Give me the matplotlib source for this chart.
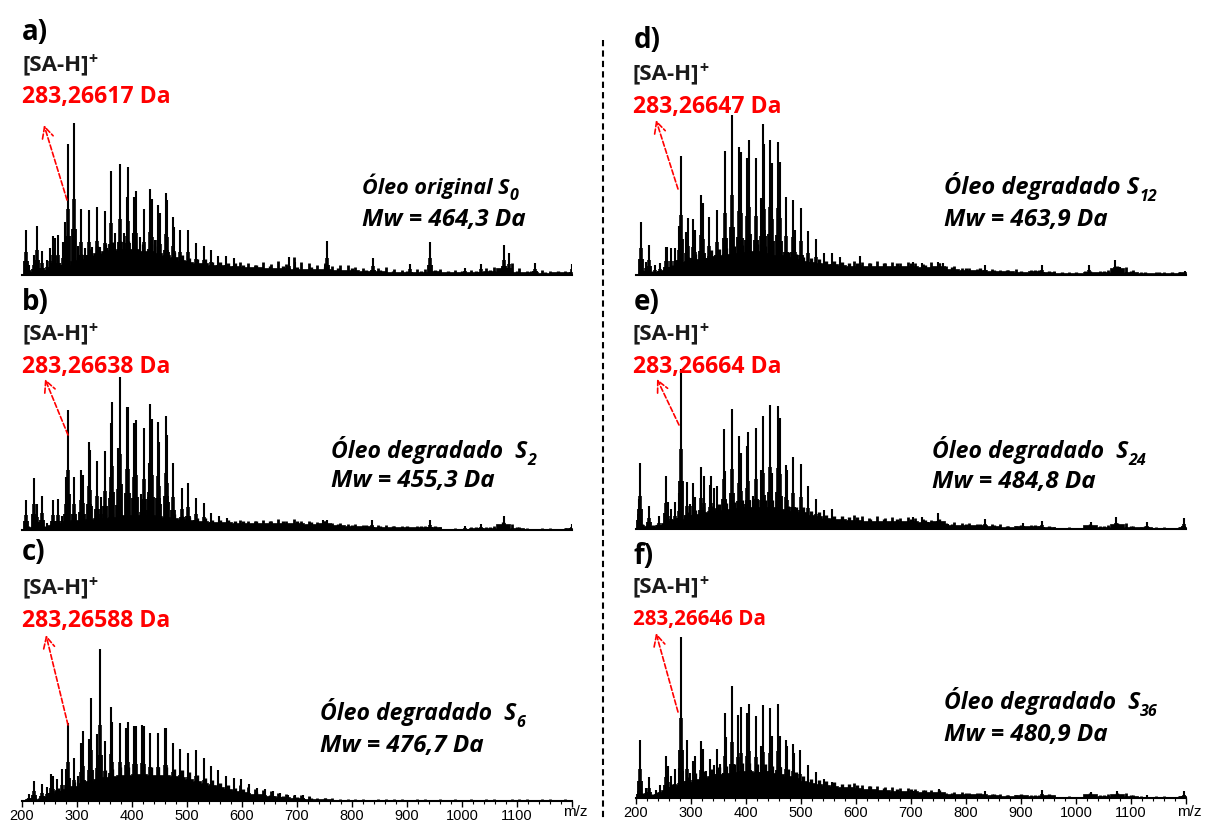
import matplotlib
matplotlib.use("Agg")
import matplotlib.pyplot as plt
from matplotlib.patches import FancyArrowPatch

W, H = 1205, 821

# m/z grid of the dense low "blob" under the peaks
base_mz = [200, 210, 220, 230, 240, 252, 266, 280, 294, 308, 322, 336, 350, 364, 378, 392, 406, 420,
           434, 448, 462, 476, 490, 504, 518, 532, 546, 560, 574, 588, 602, 625, 650, 675, 700, 725,
           750, 775, 800, 825, 850, 875, 900, 925, 950, 975, 1000, 1025, 1050, 1075, 1100, 1125,
           1150, 1175, 1200]

base_a = [1, 4, 3, 3, 3, 5, 8, 10, 14, 16, 20, 22, 24, 25, 26, 26, 26, 24, 24, 22, 20, 18, 15, 13, 12, 12,
          10, 10, 9, 9, 8, 8, 7, 7, 6, 6, 6, 5, 5, 4, 4, 3, 3, 3, 4, 3, 3, 3, 4, 7, 3, 3, 2, 3, 3]
base_b = [1, 3, 3, 2, 3, 5, 6, 9, 10, 10, 11, 12, 12, 13, 15, 15, 15, 15, 15, 14, 13, 12, 11, 10, 9, 9,
          8, 8, 8, 7, 7, 7, 7, 7, 7, 6, 7, 5, 4, 4, 3, 3, 3, 3, 3, 1, 1, 2, 2, 6, 2, 1, 1, 1, 2]
base_c = [1, 2, 3, 2, 4, 8, 10, 12, 15, 18, 20, 22, 24, 25, 26, 26, 27, 27, 26, 26, 26, 25, 24, 22, 20, 18,
          16, 14, 12, 10, 9, 7, 5, 4, 3, 2, 2, 1, 1, 1, 1, 1, 1, 1, 1, 1, 1, 1, 1, 1, 1, 1, 1, 1, 1]
base_d = [1, 4, 3, 3, 3, 5, 8, 12, 14, 16, 17, 19, 20, 21, 22, 23, 24, 24, 22, 20, 20, 18, 16, 14, 13, 12,
          11, 11, 10, 9, 9, 9, 9, 9, 9, 8, 9, 6, 5, 5, 4, 4, 3, 4, 3, 2, 2, 3, 3, 7, 3, 2, 2, 2, 3]
base_e = [1, 4, 3, 3, 4, 6, 8, 10, 13, 15, 17, 18, 19, 20, 21, 22, 22, 22, 22, 22, 20, 18, 17, 17, 14, 13,
          11, 10, 10, 9, 9, 8, 8, 8, 8, 7, 8, 4, 4, 4, 3, 2, 3, 3, 2, 1, 1, 4, 2, 5, 2, 2, 1, 1, 2]
base_f = [1, 4, 3, 3, 5, 8, 11, 13, 16, 19, 21, 22, 24, 25, 26, 27, 27, 26, 26, 25, 24, 22, 20, 17, 15, 14,
          13, 12, 11, 11, 10, 9, 8, 7, 7, 6, 6, 4, 4, 4, 3, 2, 3, 2, 3, 1, 1, 4, 2, 4, 2, 1, 1, 1, 2]

# small bumps of the tail, every 14 Da or so
tail_mz = [596, 610, 624, 638, 652, 666, 680, 694, 708, 722, 736, 750, 764, 778, 792, 806, 820, 848, 862,
           876, 890, 918, 932, 960, 988, 1016, 1044, 1058, 1090, 1104, 1118, 1146, 1160, 1188]
tail_a = [13, 12, 10, 13, 11, 14, 11, 18, 13, 12, 10, 12, 9, 10, 10, 8, 7, 7, 8,
          6, 5, 6, 6, 6, 5, 5, 7, 8, 12, 7, 4, 5, 4, 4]
tail_b = [10, 9, 9, 10, 9, 11, 9, 11, 9, 9, 8, 9, 7, 7, 6, 6, 5, 5, 5,
          4, 4, 4, 4, 3, 2, 3, 3, 4, 6, 3, 2, 2, 2, 2]
tail_c = [16, 14, 12, 11, 10, 8, 7, 6, 6, 5, 3, 3, 3, 2, 2, 2, 2, 2, 2,
          2, 2, 2, 2, 2, 2, 2, 2, 2, 2, 2, 2, 2, 2, 2]
tail_d = [14, 13, 12, 14, 12, 13, 12, 13, 12, 11, 13, 12, 9, 9, 7, 7, 6, 6, 5,
          5, 6, 5, 5, 4, 3, 4, 4, 5, 8, 5, 3, 3, 3, 3]
tail_e = [14, 13, 11, 13, 11, 12, 11, 12, 11, 10, 9, 9, 6, 7, 6, 6, 5, 5, 5,
          3, 3, 4, 3, 2, 2, 3, 3, 4, 6, 3, 2, 2, 2, 2]
tail_f = [15, 13, 12, 12, 11, 11, 10, 10, 9, 8, 8, 7, 5, 6, 6, 5, 5, 4, 4,
          3, 3, 3, 3, 2, 2, 3, 3, 4, 5, 3, 2, 2, 2, 2]

# resolved peaks, m/z and height
mz_a = [207, 213, 221, 227, 237, 245, 251, 256, 260, 266, 274, 279, 284, 294, 301, 308, 315, 321, 328, 336,
        342, 350, 355, 362, 369, 378, 385, 390, 393, 401, 404, 407, 414, 421, 433, 436, 441, 447, 450, 461,
        463, 474, 476, 488, 502, 516, 530, 543, 557, 571, 586, 685, 696, 754, 838, 905, 942, 1005, 1035,
        1076, 1085, 1132, 1200]
int_a = [45, 10, 20, 49, 24, 15, 27, 39, 37, 40, 33, 53, 131, 152, 29, 66, 27, 65, 28, 68,
         28, 64, 27, 104, 42, 111, 42, 78, 108, 42, 78, 84, 38, 66, 86, 76, 35, 70, 62, 82,
         75, 58, 48, 45, 45, 32, 29, 25, 19, 19, 17, 18, 13, 34, 17, 11, 33, 7, 11,
         30, 22, 12, 11]

mz_b = [207, 222, 227, 237, 245, 256, 266, 273, 280, 284, 294, 307, 310, 321, 324, 336, 343, 350, 361, 364,
        374, 378, 390, 393, 404, 407, 416, 421, 430, 433, 436, 447, 449, 461, 463, 475, 490, 502, 516, 530,
        544, 558, 572, 747, 754, 836, 942, 1005, 1035, 1076, 1200]
int_b = [30, 52, 26, 34, 7, 30, 31, 14, 53, 120, 53, 60, 55, 88, 80, 69, 33, 79, 107, 128,
         82, 153, 123, 123, 107, 110, 36, 102, 67, 126, 111, 108, 88, 114, 95, 67, 42, 47, 32, 27,
         17, 14, 12, 10, 10, 10, 10, 4, 6, 14, 6]

mz_c = [213, 222, 237, 245, 252, 257, 264, 273, 280, 284, 294, 301, 308, 311, 321, 325, 336, 341, 350, 362,
        364, 378, 389, 393, 404, 407, 419, 422, 433, 447, 460, 462, 474, 488, 501, 516, 530, 543, 557, 571,
        586, 599, 613, 627, 642, 656, 669, 683, 696, 710, 724]
int_c = [7, 20, 17, 14, 27, 25, 22, 32, 32, 78, 43, 25, 58, 70, 62, 103, 67, 152, 60, 94,
         79, 78, 73, 79, 75, 75, 76, 75, 68, 68, 73, 73, 58, 52, 48, 51, 43, 35, 31, 25,
         23, 22, 17, 13, 12, 10, 8, 6, 6, 6, 4]

mz_d = [209, 219, 224, 235, 243, 255, 257, 263, 271, 278, 282, 290, 294, 304, 307, 318, 321, 333, 347, 361,
        375, 387, 391, 401, 405, 418, 427, 431, 433, 444, 447, 458, 461, 472, 486, 489, 500, 513, 528, 542,
        556, 571, 607, 704, 720, 749, 758, 835, 938, 1024, 1071, 1080, 1198]
int_d = [53, 13, 30, 10, 12, 28, 28, 27, 27, 49, 119, 43, 57, 56, 45, 80, 72, 58, 65, 124,
         160, 128, 123, 117, 135, 117, 77, 151, 131, 135, 112, 133, 113, 78, 75, 45, 67, 44, 36, 22,
         22, 18, 19, 13, 12, 13, 12, 10, 10, 10, 15, 8, 4]

mz_e = [205, 208, 224, 242, 254, 258, 264, 271, 278, 282, 293, 298, 304, 307, 318, 323, 334, 336, 341, 347,
        360, 362, 375, 387, 390, 401, 404, 413, 418, 427, 431, 444, 447, 458, 461, 472, 475, 486, 500, 513,
        527, 542, 556, 704, 720, 731, 749, 767, 835, 904, 938, 1028, 1073, 1129, 1197]
int_e = [30, 66, 23, 13, 53, 27, 20, 27, 36, 160, 47, 25, 46, 32, 62, 53, 44, 53, 41, 43,
         100, 58, 120, 93, 76, 83, 97, 33, 101, 59, 113, 124, 56, 123, 111, 64, 59, 72, 65, 43,
         30, 19, 20, 12, 12, 7, 16, 5, 10, 6, 8, 7, 12, 7, 11]

mz_f = [205, 208, 219, 224, 236, 244, 254, 258, 264, 271, 278, 282, 285, 293, 298, 304, 307, 318, 321, 327,
        334, 341, 347, 352, 361, 364, 375, 386, 390, 401, 405, 418, 427, 430, 444, 447, 458, 461, 472, 475,
        486, 488, 499, 513, 527, 542, 556, 704, 750, 835, 901, 939, 1028, 1074, 1129, 1196]
int_f = [15, 58, 10, 21, 8, 13, 42, 32, 22, 29, 30, 161, 27, 58, 25, 37, 42, 57, 49, 27,
         39, 33, 49, 34, 85, 61, 112, 83, 91, 85, 94, 82, 52, 93, 90, 62, 94, 62, 58, 52,
         54, 45, 48, 33, 26, 19, 16, 7, 9, 7, 3, 8, 6, 7, 3, 7]

tick_vals = [200, 300, 400, 500, 600, 700, 800, 900, 1000, 1100, 1200]
tick_text = ["200", "300", "400", "500", "600", "700", "800", "900", "1000", "1100", ""]

letters = ["a)", "b)", "c)", "d)", "e)", "f)"]
masses = ["283,26617 Da", "283,26638 Da", "283,26588 Da", "283,26647 Da", "283,26664 Da", "283,26646 Da"]
oils = ["Óleo original S", "Óleo degradado  S", "Óleo degradado  S", "Óleo degradado S", "Óleo degradado  S", "Óleo degradado  S"]
oil_sizes = [15.5, 16.6, 16.6, 17, 16.6, 16.6]
subs = ["0", "2", "6", "12", "24", "36"]
weights = ["Mw = 464,3 Da", "Mw = 455,3 Da", "Mw = 476,7 Da", "Mw = 463,9 Da", "Mw = 484,8 Da", "Mw = 480,9 Da"]

panels = [
    (22, 275, mz_a, int_a, base_a, tail_a, (22, 33), (65, 97), (362, 186, 220), (67, 200, 44, 125)),
    (22, 530, mz_b, int_b, base_b, tail_b, (22, 302), (334, 367), (331, 450, 481), (68, 435, 45, 379)),
    (22, 801, mz_c, int_c, base_c, tail_c, (22, 553), (588, 621), (320, 712, 746), (68, 725, 46, 635)),
    (636, 275, mz_d, int_d, base_d, tail_d, (634, 40), (74, 107), (944, 186, 220), (678, 189, 656, 120)),
    (636, 529, mz_e, int_e, base_e, tail_e, (634, 302), (334, 367), (932, 450, 482), (679, 425, 657, 379)),
    (636, 798, mz_f, int_f, base_f, tail_f, (634, 556), (587, 619), (944, 701, 735), (678, 712, 656, 633)),
]

plt.rcParams["font.family"] = ["Open Sans", "DejaVu Sans"]
fig = plt.figure(figsize=(W / 100, H / 100), dpi=100)


def put(x, y, s, **kw):
    return fig.text(x / W, 1 - y / H, s, va="center", ha="left", **kw)


for i, (left, base_y, mz, inten, blob, tail, let_xy, lab_y, oil_xy, arr) in enumerate(panels):
    ax = fig.add_axes([left / W, 1 - base_y / H, 550 / W, 170 / H])
    ax.patch.set_alpha(0)
    ax.fill_between(base_mz, 0, blob, color="black", lw=0.5, step="mid")
    ax.vlines(base_mz, 0, [v * 1.3 for v in blob], color="black", lw=2.4)
    ax.vlines(tail_mz, 0, tail, color="black", lw=2)
    ax.vlines(mz, 0, inten, color="black", lw=1.5)
    ax.vlines(mz, 0, [v * 0.5 for v in inten], color="black", lw=2.6)
    ax.vlines(mz, 0, [v * 0.3 for v in inten], color="black", lw=4.2)
    ax.set_xlim(200, 1200)
    ax.set_ylim(0, 170)
    for s in ["top", "left", "right"]:
        ax.spines[s].set_visible(False)
    ax.spines["bottom"].set_linewidth(1.5)
    ax.set_yticks([])
    if i in (2, 5):
        ax.set_xticks(tick_vals)
        ax.set_xticklabels(tick_text, family="Liberation Sans", fontsize=10.5)
        ax.set_xticks(range(200, 1201, 20), minor=True)
        ax.tick_params(axis="x", which="major", length=4, width=1, pad=2)
        ax.tick_params(axis="x", which="minor", length=2, width=0.8)
        put(left + 541, 812, "m/z", family="Liberation Sans", fontsize=11)
    else:
        ax.set_xticks([])

    lab_x = let_xy[0] if i < 3 else 633
    put(let_xy[0], let_xy[1], letters[i], fontsize=20, fontweight="bold")
    t = put(lab_x, lab_y[0], "[SA-H]", fontsize=16, fontweight="bold", color="#1a1a1a")
    plt.annotate("+", xy=(1, 0.72), xycoords=t, va="center", ha="left", fontsize=11.5,
                 fontweight="bold", color="#1a1a1a", annotation_clip=False)
    put(lab_x, lab_y[1], masses[i], color="red", fontweight="bold",
        fontsize=14.8 if i == 5 else 16.6)

    o = put(oil_xy[0], oil_xy[1], oils[i], fontsize=oil_sizes[i], fontweight="bold", style="italic")
    plt.annotate(subs[i], xy=(1, 0.1), xycoords=o, va="center", ha="left", fontsize=11.5,
                 fontweight="bold", style="italic", annotation_clip=False)
    put(oil_xy[0], oil_xy[2], weights[i], fontsize=17.5, fontweight="bold", style="italic")

    fig.add_artist(FancyArrowPatch(
        (arr[0] / W, 1 - arr[1] / H), (arr[2] / W, 1 - arr[3] / H), transform=fig.transFigure,
        arrowstyle="->,head_length=8,head_width=4", color="red", lw=1.2, linestyle=(0, (3, 1.5)),
        shrinkA=0, shrinkB=0))

fig.add_artist(plt.Line2D([603 / W, 603 / W], [1 - 40 / H, 0], color="black", lw=1.5, linestyle=(0, (3, 2))))

fig.savefig("out.png", dpi=100)
